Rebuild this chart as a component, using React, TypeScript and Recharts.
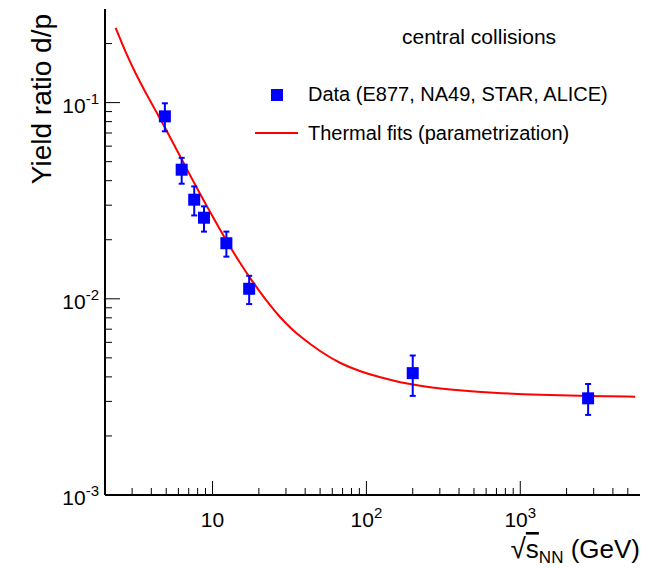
import { ComposedChart, ErrorBar, Legend, Line, Scatter, XAxis, YAxis } from "recharts";

const FONT = "'Liberation Sans', Arial, Helvetica, sans-serif";
const BLUE = "#0000ff";
const RED = "#ff0000";

// measured d/p points (sqrt(s_NN) in GeV)
const energies = [4.9, 6.3, 7.6, 8.8, 12.3, 17.3, 200, 2760];
const ratios = [0.0851, 0.0455, 0.032, 0.0259, 0.0192, 0.01125, 0.00418, 0.00311];
const lowBounds = [0.0714, 0.0386, 0.0266, 0.022, 0.0164, 0.0094, 0.0032, 0.00256];
const highBounds = [0.0992, 0.0523, 0.0374, 0.0296, 0.022, 0.0131, 0.00514, 0.00368];

// thermal model curve
const fitEnergies = [
  2.345, 2.723, 3.162, 3.672, 4.265, 4.952, 5.75, 6.677, 7.756, 9.006, 10.46, 12.51, 15.2, 17.65, 20.5, 23.8,
  27.64, 32.1, 37.28, 50.27, 67.8, 91.42, 123.3, 166.3, 224.2, 302.4, 407.8, 638.7, 1349, 2806, 5582,
];
const fitRatios = [
  0.2405, 0.1799, 0.1406, 0.1125, 0.091, 0.0737, 0.0589, 0.0472, 0.0377, 0.0305, 0.0247, 0.0193, 0.0151, 0.01265,
  0.01073, 0.00921, 0.008, 0.00711, 0.0064, 0.00537, 0.00467, 0.00426, 0.00397, 0.00375, 0.0036, 0.00349, 0.00341,
  0.00332, 0.00324, 0.00319, 0.00317,
];

const xTicks = [
  2, 3, 4, 5, 6, 7, 8, 9, 10, 20, 30, 40, 50, 60, 70, 80, 90, 100, 200, 300, 400, 500, 600, 700, 800, 900, 1000, 2000,
  3000, 4000, 5000,
];
const yTicks = [
  0.001, 0.002, 0.003, 0.004, 0.005, 0.006, 0.007, 0.008, 0.009, 0.01, 0.02, 0.03, 0.04, 0.05, 0.06, 0.07, 0.08, 0.09,
  0.1, 0.2,
];

const dataName = "Data (E877, NA49, STAR, ALICE)";
const fitName = "Thermal fits (parametrization)";
const note = "central collisions";

const points = energies.map((x, i) => ({
  x,
  y: ratios[i],
  err: [ratios[i] - lowBounds[i], highBounds[i] - ratios[i]],
}));
const fit = fitEnergies.map((x, i) => ({ x, y: fitRatios[i] }));

const isMajor = (v: number) => Math.abs(Math.log10(v) - Math.round(Math.log10(v))) < 1e-6;

const PowLabel = ({ v }: { v: number }) => {
  const e = Math.round(Math.log10(v));
  if (e === 1) return <>10</>;
  return (
    <>
      10
      <tspan dy={-9} fontSize={15}>
        {e}
      </tspan>
    </>
  );
};

const XTick = (p: any) => {
  const v = p.payload.value;
  const major = isMajor(v);
  return (
    <g>
      <line x1={p.x} x2={p.x} y1={p.y} y2={p.y - (major ? 14 : 7)} stroke="#000" strokeWidth={1} />
      {major && (
        <text x={p.x} y={p.y + 32} textAnchor="middle" fontSize={21} fontFamily={FONT} fill="#000">
          <PowLabel v={v} />
        </text>
      )}
    </g>
  );
};

const YTick = (p: any) => {
  const v = p.payload.value;
  const major = isMajor(v);
  return (
    <g>
      <line x1={p.x} x2={p.x + (major ? 15 : 7)} y1={p.y} y2={p.y} stroke="#000" strokeWidth={1} />
      {major && (
        <text x={p.x - 6} y={p.y + 10} textAnchor="end" fontSize={21} fontFamily={FONT} fill="#000">
          <PowLabel v={v} />
        </text>
      )}
    </g>
  );
};

const RightTick = (p: any) => {
  const major = isMajor(p.payload.value);
  return <line x1={p.x} x2={p.x - (major ? 15 : 7)} y1={p.y} y2={p.y} stroke="#000" strokeWidth={1} />;
};

const XTitle = (props: any) => {
  const vb = props.viewBox ?? { x: 105, y: 495, width: 535, height: 73 };
  return (
    <text x={vb.x + vb.width} y={vb.y + 63} textAnchor="end" fontSize={26} fontFamily={FONT} fill="#000">
      <tspan fontSize={28}>√</tspan>
      <tspan textDecoration="overline">s</tspan>
      <tspan fontSize={17} dy={5}>
        NN
      </tspan>
      <tspan dy={-5}> (GeV)</tspan>
    </text>
  );
};

const YTitle = (props: any) => {
  const vb = props.viewBox ?? { x: 0, y: 9, width: 105, height: 486 };
  const x = vb.x + 51;
  const y = vb.y + 5;
  return (
    <text x={x} y={y} transform={`rotate(-90, ${x}, ${y})`} textAnchor="end" fontSize={28} fontFamily={FONT} fill="#000">
      Yield ratio d/p
    </text>
  );
};

const Square = (p: any) => <rect x={p.cx - 6} y={p.cy - 6} width={12} height={12} fill={BLUE} />;

const LegendBox = () => (
  <div style={{ position: "relative", fontFamily: FONT, color: "#000" }}>
    <div style={{ position: "absolute", left: 402, top: 26, fontSize: 21, lineHeight: "21px", whiteSpace: "nowrap" }}>{note}</div>
    <div style={{ position: "absolute", left: 271, top: 89, width: 12, height: 12, background: BLUE }} />
    <div style={{ position: "absolute", left: 308, top: 84, fontSize: 20, lineHeight: "20px", whiteSpace: "nowrap" }}>{dataName}</div>
    <div style={{ position: "absolute", left: 255, top: 132, width: 43, height: 2, background: RED }} />
    <div style={{ position: "absolute", left: 308, top: 123, fontSize: 20, lineHeight: "20px", whiteSpace: "nowrap" }}>{fitName}</div>
  </div>
);

export default function App() {
  return (
    <div style={{ position: "absolute", left: 0, top: 0, background: "#fff", fontFamily: FONT }}>
      <ComposedChart width={654} height={568} margin={{ top: 9, right: 14, bottom: 0, left: 0 }}>
        <XAxis
          xAxisId="b"
          type="number"
          dataKey="x"
          scale="log"
          domain={[2, 6000]}
          allowDataOverflow
          ticks={xTicks}
          interval={0}
          tickSize={0}
          tickMargin={0}
          tickLine={false}
          tick={(p: any) => <XTick {...p} />}
          height={73}
          axisLine={{ stroke: "#000", strokeWidth: 2 }}
          label={{ content: XTitle }}
        />
        <XAxis
          xAxisId="t"
          orientation="top"
          type="number"
          dataKey="x"
          scale="log"
          domain={[2, 6000]}
          allowDataOverflow
          height={0}
          tick={false}
          tickLine={false}
          axisLine={{ stroke: "#000", strokeWidth: 2 }}
        />
        <YAxis
          yAxisId="l"
          type="number"
          scale="log"
          domain={[0.001, 0.3]}
          allowDataOverflow
          ticks={yTicks}
          interval={0}
          tickSize={0}
          tickMargin={0}
          tickLine={false}
          tick={(p: any) => <YTick {...p} />}
          width={105}
          axisLine={{ stroke: "#000", strokeWidth: 2 }}
          label={{ content: YTitle }}
        />
        <YAxis
          yAxisId="r"
          orientation="right"
          type="number"
          scale="log"
          domain={[0.001, 0.3]}
          allowDataOverflow
          ticks={yTicks}
          interval={0}
          tickSize={0}
          tickMargin={0}
          tickLine={false}
          tick={(p: any) => <RightTick {...p} />}
          width={0}
          axisLine={{ stroke: "#000", strokeWidth: 2 }}
        />
        <Line
          xAxisId="b"
          yAxisId="l"
          data={fit}
          dataKey="y"
          name={fitName}
          type="basis"
          stroke={RED}
          strokeWidth={2}
          dot={false}
          isAnimationActive={false}
        />
        <Scatter
          xAxisId="b"
          yAxisId="l"
          data={points}
          dataKey="y"
          name={dataName}
          fill={BLUE}
          shape={Square}
          isAnimationActive={false}
        >
          <ErrorBar dataKey="err" direction="y" width={3} stroke={BLUE} strokeWidth={2} isAnimationActive={false} />
        </Scatter>
        <Legend
          layout="vertical"
          align="center"
          verticalAlign="middle"
          wrapperStyle={{ left: 0, top: 0, width: 654, height: 0 }}
          content={() => <LegendBox />}
        />
      </ComposedChart>
    </div>
  );
}
